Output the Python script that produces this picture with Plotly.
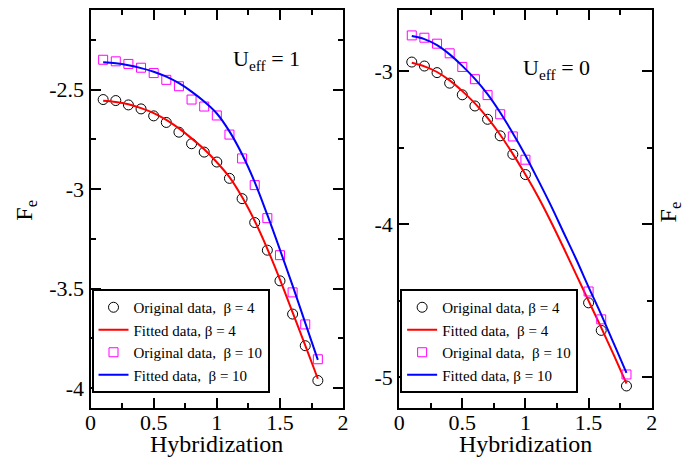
import plotly.graph_objects as go

# ---------------- data ----------------
# Left panel: U_eff = 1
x_left = [0.1, 0.2, 0.3, 0.4, 0.5, 0.6, 0.7, 0.8, 0.9, 1.0, 1.1, 1.2, 1.3, 1.4, 1.5, 1.6, 1.7, 1.8]
left_orig_b4 = [-2.55, -2.555, -2.577, -2.597, -2.632, -2.665, -2.714, -2.772, -2.814, -2.864,
                -2.946, -3.048, -3.168, -3.307, -3.461, -3.628, -3.787, -3.962]
left_fit_b4 = [-2.556, -2.562, -2.574, -2.593, -2.618, -2.652, -2.695, -2.745, -2.80, -2.865,
               -2.94, -3.04, -3.16, -3.30, -3.455, -3.62, -3.785, -3.953]
left_orig_b10 = [-2.35, -2.358, -2.371, -2.39, -2.417, -2.451, -2.483, -2.55, -2.585, -2.63,
                 -2.726, -2.846, -2.98, -3.146, -3.332, -3.519, -3.68, -3.855]
left_fit_b10 = [-2.363, -2.368, -2.378, -2.392, -2.41, -2.435, -2.468, -2.51, -2.56, -2.62,
                -2.71, -2.825, -2.965, -3.13, -3.305, -3.485, -3.672, -3.858]

# Right panel: U_eff = 0
x_right_orig = [0.1, 0.2, 0.3, 0.4, 0.5, 0.6, 0.7, 0.8, 0.9, 1.0, 1.5, 1.6, 1.8]
right_orig_b4 = [-2.94, -2.966, -3.009, -3.078, -3.154, -3.227, -3.314, -3.422, -3.543, -3.675,
                 -4.513, -4.693, -5.056]
right_orig_b10 = [-2.766, -2.781, -2.82, -2.883, -2.972, -3.052, -3.156, -3.281, -3.426, -3.578,
                  -4.439, -4.621, -4.981]
x_right_fit = [0.1, 0.2, 0.3, 0.4, 0.5, 0.6, 0.7, 0.8, 0.9, 1.0, 1.1, 1.2, 1.3, 1.4, 1.5, 1.6, 1.7, 1.8]
right_fit_b4 = [-2.945, -2.968, -3.005, -3.06, -3.13, -3.21, -3.305, -3.415, -3.54, -3.675,
                -3.82, -3.98, -4.15, -4.325, -4.50, -4.675, -4.855, -5.04]
right_fit_b10 = [-2.77, -2.79, -2.83, -2.89, -2.965, -3.05, -3.15, -3.27, -3.405, -3.55,
                 -3.71, -3.875, -4.05, -4.225, -4.41, -4.59, -4.78, -4.97]

x_tickvals = [0, 0.5, 1, 1.5, 2]
x_ticktext = ["0", "0.5", "1", "1.5", "2"]
left_y_tickvals = [-4, -3.5, -3, -2.5]
left_y_ticktext = ["-4", "-3.5", "-3", "-2.5"]
right_y_tickvals = [-5, -4, -3]
right_y_ticktext = ["-5", "-4", "-3"]

left_names = ["Original data,  \u03b2 = 4", "Fitted data, \u03b2 = 4",
              "Original data,  \u03b2 = 10", "Fitted data,  \u03b2 = 10"]
right_names = ["Original data, \u03b2 = 4", "Fitted data,  \u03b2 = 4",
               "Original data,  \u03b2 = 10", "Fitted data, \u03b2 = 10"]

FONT = "Liberation Serif"
RED = "#ff0000"
BLUE = "#0000ff"
MAG = "#ff00ff"

fig = go.Figure()

def add_panel(xo, yo4, yo10, xf, yf4, yf10, names, xa, ya, leg):
    fig.add_trace(go.Scatter(x=xo, y=yo4, mode="markers", name=names[0],
                             marker=dict(symbol="circle-open", size=10, color="black", line=dict(width=1)),
                             xaxis=xa, yaxis=ya, legend=leg))
    fig.add_trace(go.Scatter(x=xf, y=yf4, mode="lines", name=names[1],
                             line=dict(color=RED, width=2, shape="spline"),
                             xaxis=xa, yaxis=ya, legend=leg))
    fig.add_trace(go.Scatter(x=xo, y=yo10, mode="markers", name=names[2],
                             marker=dict(symbol="square-open", size=9, color=MAG, line=dict(width=1)),
                             xaxis=xa, yaxis=ya, legend=leg))
    fig.add_trace(go.Scatter(x=xf, y=yf10, mode="lines", name=names[3],
                             line=dict(color=BLUE, width=2, shape="spline"),
                             xaxis=xa, yaxis=ya, legend=leg))

add_panel(x_left, left_orig_b4, left_orig_b10, x_left, left_fit_b4, left_fit_b10,
          left_names, "x", "y", "legend")
add_panel(x_right_orig, right_orig_b4, right_orig_b10, x_right_fit, right_fit_b4, right_fit_b10,
          right_names, "x2", "y2", "legend2")

W, H = 700, 457
def px(v):
    return v / W
def py(v):
    return 1 - v / H

axis_common = dict(showline=True, linecolor="black", linewidth=2, mirror="allticks",
                   ticks="inside", ticklen=10, tickwidth=1.5, tickcolor="black",
                   showgrid=False, zeroline=False, tickmode="array",
                   tickfont=dict(family=FONT, size=22, color="black"))

fig.update_layout(
    width=W, height=H,
    margin=dict(l=0, r=0, t=0, b=0),
    paper_bgcolor="white", plot_bgcolor="white",
    font=dict(family=FONT, color="black"),
    xaxis=dict(domain=[px(86), px(343)], range=[0, 2], anchor="y",
               tickvals=x_tickvals, ticktext=x_ticktext, ticklabelstandoff=-6,
               minor=dict(dtick=0.25, tick0=0, ticks="inside", ticklen=5, tickcolor="black"),
               **axis_common),
    yaxis=dict(domain=[py(408), py(10)], range=[-4.1, -2.1], anchor="x",
               tickvals=left_y_tickvals, ticktext=left_y_ticktext,
               minor=dict(dtick=0.25, tick0=0, ticks="inside", ticklen=5, tickcolor="black"),
               **axis_common),
    xaxis2=dict(domain=[px(400), px(657)], range=[0, 2], anchor="y2",
                tickvals=x_tickvals, ticktext=x_ticktext, ticklabelstandoff=-6,
                minor=dict(dtick=0.25, tick0=0, ticks="inside", ticklen=5, tickcolor="black"),
                **axis_common),
    yaxis2=dict(domain=[py(408), py(10)], range=[-5.2, -2.6], anchor="x2",
                tickvals=right_y_tickvals, ticktext=right_y_ticktext,
                minor=dict(dtick=0.5, tick0=0, ticks="inside", ticklen=5, tickcolor="black"),
                **axis_common),
    legend=dict(x=px(87), y=py(289), xanchor="left", yanchor="top",
                bgcolor="white", bordercolor="black", borderwidth=2, itemwidth=30,
                font=dict(family=FONT, size=15, color="black"), tracegroupgap=0),
    legend2=dict(x=px(401), y=py(289), xanchor="left", yanchor="top",
                 bgcolor="white", bordercolor="black", borderwidth=2, itemwidth=30,
                 font=dict(family=FONT, size=15, color="black"), tracegroupgap=0),
    showlegend=True,
)

ann_font = dict(family=FONT, size=24, color="black")
fig.add_annotation(text="Hybridization", x=px(214.5), y=py(444), xref="paper", yref="paper",
                   showarrow=False, font=ann_font, xanchor="center", yanchor="middle")
fig.add_annotation(text="Hybridization", x=px(528.5), y=py(444), xref="paper", yref="paper",
                   showarrow=False, font=ann_font, xanchor="center", yanchor="middle")
fig.add_annotation(text="F<sub>e</sub>", x=px(20), y=py(210), xref="paper", yref="paper",
                   showarrow=False, font=ann_font, textangle=-90, xanchor="center", yanchor="middle")
fig.add_annotation(text="F<sub>e</sub>", x=px(676), y=py(212), xref="paper", yref="paper",
                   showarrow=False, font=ann_font, textangle=-90, xanchor="center", yanchor="middle")
fig.add_annotation(text="U<sub>eff</sub> = 1", x=px(265), y=py(60), xref="paper", yref="paper",
                   showarrow=False, font=dict(family=FONT, size=22, color="black"),
                   xanchor="center", yanchor="middle")
fig.add_annotation(text="U<sub>eff</sub> = 0", x=px(560), y=py(69), xref="paper", yref="paper",
                   showarrow=False, font=dict(family=FONT, size=22, color="black"),
                   xanchor="center", yanchor="middle")

fig.write_html("out.html", config={"displayModeBar": False},
               post_script="document.body.style.margin='0';document.body.style.overflow='hidden';")
